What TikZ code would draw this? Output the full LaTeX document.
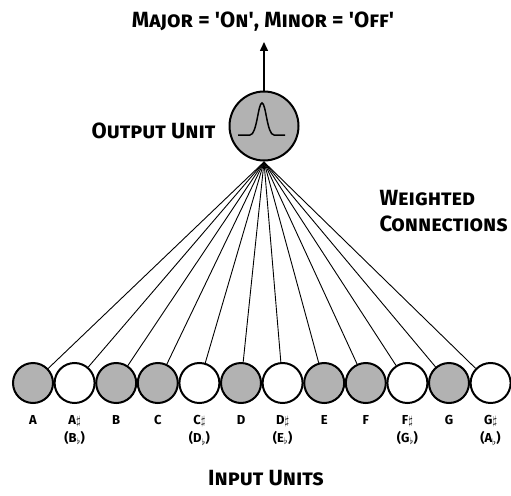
\documentclass[tikz,border=0pt]{standalone}
\usepackage{fontspec}
\setmainfont{Fira Sans}
\usetikzlibrary{arrows.meta}
\begin{document}
\begin{tikzpicture}[x=1pt,y=-1pt,
  unit/.style={circle,draw=black,line width=2pt,minimum size=40pt,inner sep=0pt},
  on/.style={unit,fill=black!30},
  off/.style={unit,fill=white},
  wire/.style={line width=0.9pt},
  notelabel/.style={font=\fontsize{13}{18}\selectfont\bfseries,align=center,anchor=north,inner sep=0pt},
  caption/.style={font=\fontsize{22}{26}\selectfont\bfseries\scshape}]
\useasboundingbox[fill=white] (0,0) rectangle (511,495);

% output unit with its bell-shaped activation
\node[unit,fill=black!30,minimum size=69pt] (out) at (264,126) {};
\draw[line width=1.5pt] (238,135) -- (250,135)
  .. controls (257,135) and (258,103) .. (262,103)
  .. controls (266,103) and (267,135) .. (274,135) -- (285,135);
\coordinate (apex) at (264,162);

% output arrow and its meaning
\node[caption] (title) at (263,22)
  {Major = \textquotesingle On\textquotesingle, Minor = \textquotesingle Off\textquotesingle};
\draw[line width=1.5pt,-{Triangle[length=9pt,width=8pt]}] (out.north) -- (264,42);
\node[caption,anchor=east] (outlbl) at (219,131) {Output Unit};

% input units, one for each pitch class
\foreach \n/\s [count=\i from 0] in {A/on,As/off,B/on,C/on,Cs/off,D/on,Ds/off,E/on,F/on,Fs/off,G/on,Gs/off}{
  \node[\s] (\n) at ({33+\i*41.6},383) {};
  \draw[wire] (apex) -- (\n);
}

% pitch names
\node[notelabel] (lA)  at ([yshift=-11pt]A.south)  {A};
\node[notelabel] (lAs) at ([yshift=-11pt]As.south) {A$\sharp$\\(B$_\flat$)};
\node[notelabel] (lB)  at ([yshift=-11pt]B.south)  {B};
\node[notelabel] (lC)  at ([yshift=-11pt]C.south)  {C};
\node[notelabel] (lCs) at ([yshift=-11pt]Cs.south) {C$\sharp$\\(D$_\flat$)};
\node[notelabel] (lD)  at ([yshift=-11pt]D.south)  {D};
\node[notelabel] (lDs) at ([yshift=-11pt]Ds.south) {D$\sharp$\\(E$_\flat$)};
\node[notelabel] (lE)  at ([yshift=-11pt]E.south)  {E};
\node[notelabel] (lF)  at ([yshift=-11pt]F.south)  {F};
\node[notelabel] (lFs) at ([yshift=-11pt]Fs.south) {F$\sharp$\\(G$_\flat$)};
\node[notelabel] (lG)  at ([yshift=-11pt]G.south)  {G};
\node[notelabel] (lGs) at ([yshift=-11pt]Gs.south) {G$\sharp$\\(A$_\flat$)};

\node[caption] (inlbl) at (266,478) {Input Units};
\node[caption,align=left,anchor=west] (wlbl) at (376,211) {Weighted\\Connections};
\end{tikzpicture}
\end{document}
